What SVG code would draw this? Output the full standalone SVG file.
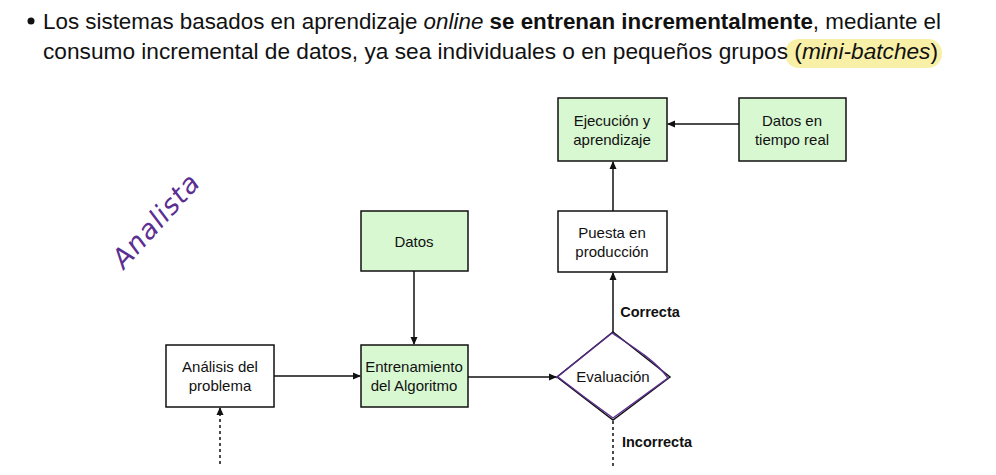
<svg xmlns="http://www.w3.org/2000/svg" width="996" height="475" viewBox="0 0 996 475">
<defs>
<style>
.box{stroke:#111;stroke-width:1.5}
.w{fill:#fff}
.g{fill:#d8f8d2}
.lbl{font-family:"Liberation Sans",Arial,sans-serif;font-size:15px;fill:#111;text-anchor:middle}
.b{font-weight:bold;font-size:14.5px}
.con{stroke:#111;stroke-width:1.5;fill:none}
.dot{stroke-dasharray:3 3}
.hd{font-family:"Liberation Sans",Arial,sans-serif;font-size:22px;fill:#111}
</style>
<marker id="ah" markerWidth="8" markerHeight="8" refX="7" refY="4" orient="auto" markerUnits="userSpaceOnUse">
<path d="M0,0.5 L8,4 L0,7.5 Z" fill="#111"/>
</marker>
</defs>
<rect width="996" height="475" fill="#fff"/>
<g id="header">
<rect x="785" y="39" width="157" height="29" rx="14" fill="#f8ee9e" opacity="0.9"/>
<circle cx="31" cy="21" r="3.5" fill="#111"/>
<text class="hd" x="43" y="29" textLength="898" lengthAdjust="spacingAndGlyphs">Los sistemas basados en aprendizaje <tspan font-style="italic">online</tspan> <tspan font-weight="bold">se entrenan incrementalmente</tspan>, mediante el</text>
<text class="hd" x="43" y="59" textLength="895" lengthAdjust="spacingAndGlyphs">consumo incremental de datos, ya sea individuales o en pequeños grupos (<tspan font-style="italic">mini-batches</tspan>)</text>
</g>
<g id="annotation">
<text x="0" y="0" transform="translate(124,270) rotate(-48)" font-family="DejaVu Sans, sans-serif" font-style="italic" font-size="27" letter-spacing="1" fill="#5b2e91">Analista</text>
</g>
<g id="connectors">
<line class="con" x1="274" y1="376" x2="360" y2="376" marker-end="url(#ah)"/>
<line class="con" x1="414" y1="271" x2="414" y2="344" marker-end="url(#ah)"/>
<line class="con" x1="468" y1="377" x2="556" y2="377" marker-end="url(#ah)"/>
<line class="con" x1="613" y1="332" x2="613" y2="273" marker-end="url(#ah)"/>
<line class="con" x1="613" y1="211" x2="613" y2="162" marker-end="url(#ah)"/>
<line class="con" x1="739" y1="124" x2="668" y2="124" marker-end="url(#ah)"/>
<line class="con dot" x1="613" y1="421" x2="613" y2="466"/>
<line class="con dot" x1="220" y1="464" x2="220" y2="408" marker-end="url(#ah)"/>
<text class="lbl b" x="650" y="317">Correcta</text>
<text class="lbl b" x="657" y="447">Incorrecta</text>
</g>
<g id="analisis">
<rect class="box w" x="166" y="345" width="108" height="62"/>
<text class="lbl" x="220" y="372">Análisis del</text>
<text class="lbl" x="220" y="391">problema</text>
</g>
<g id="datos">
<rect class="box g" x="361" y="211" width="107" height="60"/>
<text class="lbl" x="414" y="247">Datos</text>
</g>
<g id="entrenamiento">
<rect class="box g" x="361" y="345" width="107" height="62"/>
<text class="lbl" x="414" y="372">Entrenamiento</text>
<text class="lbl" x="414" y="391">del Algoritmo</text>
</g>
<g id="evaluacion">
<polygon points="613,332 670,377 613,420 557,377" fill="#fff" stroke="#111" stroke-width="1.5"/>
<path d="M556,378 L612,333 C630,345 655,360 668,378 L613,418 Q585,398 558,377" fill="none" stroke="#5b2e91" stroke-width="1.4"/>
<text class="lbl" x="613" y="382">Evaluación</text>
</g>
<g id="puesta">
<rect class="box w" x="558" y="211" width="109" height="61"/>
<text class="lbl" x="612" y="238">Puesta en</text>
<text class="lbl" x="612" y="257">producción</text>
</g>
<g id="ejecucion">
<rect class="box g" x="558" y="98" width="109" height="63"/>
<text class="lbl" x="612" y="126">Ejecución y</text>
<text class="lbl" x="612" y="145">aprendizaje</text>
</g>
<g id="tiemporeal">
<rect class="box g" x="739" y="98" width="107" height="63"/>
<text class="lbl" x="792" y="126">Datos en</text>
<text class="lbl" x="792" y="145">tiempo real</text>
</g>
</svg>
